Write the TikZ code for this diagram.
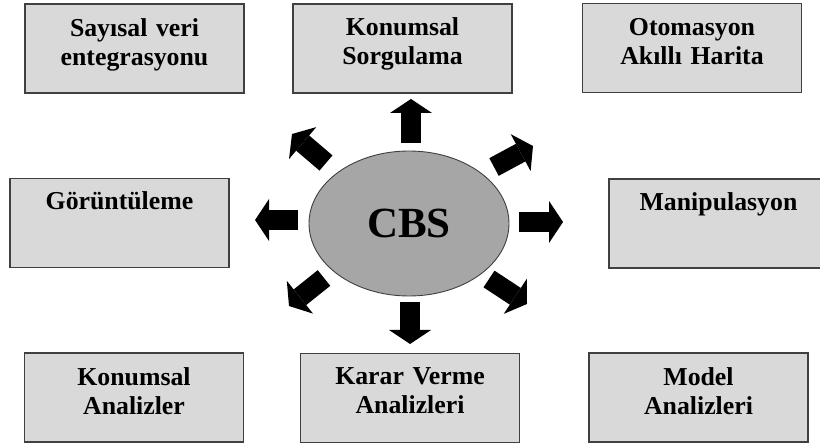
\documentclass[tikz,border=0pt]{standalone}
\usepackage{fontspec}
\setmainfont{Liberation Serif}
\usetikzlibrary{shapes.geometric,arrows.meta,calc}

\tikzset{
  box/.style={draw=black!75, line width=1.4pt, fill=black!15,
    minimum width=219pt, minimum height=89pt, inner sep=0pt},
  lbl/.style={font=\bfseries\fontsize{25.8}{29}\selectfont, text width=215pt,
    align=center, anchor=base, inner sep=0pt},
  hub/.style={ellipse, draw=black!75, line width=0.9pt, fill=black!35,
    minimum width=200pt, minimum height=145pt, inner sep=0pt,
    font=\bfseries\fontsize{43}{46}\selectfont},
  blockarrow/.style={line width=20pt, line cap=butt,
    -{Triangle[width=42pt,length=14pt,line width=0pt]}},
}

\begin{document}
\begin{tikzpicture}[x=1pt,y=-1pt]
  \useasboundingbox (0,0) rectangle (820,446);

  % central ellipse
  \node[hub] (cbs) at (409,223.5) {CBS};

  % surrounding boxes
  \node[box] (b1) at (134.5,48.5) {};
  \node[box] (b2) at (402.5,48.5) {};
  \node[box] (b3) at (692,48) {};
  \node[box] (b4) at (119.5,223) {};
  \node[box] (b5) at (718.5,223.5) {};
  \node[box] (b6) at (134,397.5) {};
  \node[box] (b7) at (410,398) {};
  \node[box] (b8) at (698.5,397.5) {};

  % box captions
  \node[lbl] at ($(b1.north)+(0,33.5)$) {Sayısal veri\\entegrasyonu};
  \node[lbl] at ($(b2.north)+(0,32.5)$) {Konumsal\\Sorgulama};
  \node[lbl] at ($(b3.north)+(0,32.5)$) {Otomasyon\\Akıllı Harita};
  \node[lbl] at ($(b4.north)+(0,32)$) {Görüntüleme};
  \node[lbl] at ($(b5.north)+(0,32)$) {Manipulasyon};
  \node[lbl] at ($(b6.north)+(0,33)$) {Konumsal\\Analizler};
  \node[lbl] at ($(b7.north)+(0,31.5)$) {Karar Verme\\Analizleri};
  \node[lbl] at ($(b8.north)+(0,33)$) {Model\\Analizleri};

  % arrow ends around the ellipse
  \coordinate (uT) at (411,143);  \coordinate (uH) at (411,99);
  \coordinate (dT) at (410,302);  \coordinate (dH) at (410,344);
  \coordinate (lT) at (298,220);  \coordinate (lH) at (255,220);
  \coordinate (rT) at (519,222);  \coordinate (rH) at (563,222);
  \coordinate (ulT) at (326,163); \coordinate (ulH) at (292,134);
  \coordinate (urT) at (494,167); \coordinate (urH) at (533,146);
  \coordinate (dlT) at (324,278); \coordinate (dlH) at (289,306);
  \coordinate (drT) at (489,279); \coordinate (drH) at (527,304);

  \foreach \a in {u,d,l,r,ul,ur,dl,dr}
    \draw[blockarrow] (\a T) -- (\a H);
\end{tikzpicture}
\end{document}
